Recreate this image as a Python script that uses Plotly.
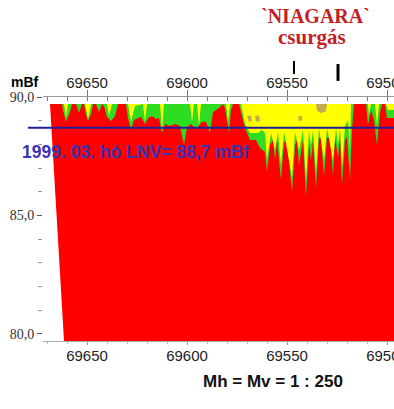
import plotly.graph_objects as go

# ---------------- data (chainage in m, elevation in mBf) ----------------
TOP_EL = 89.70          # top of the surveyed section
BOTTOM_EL = 79.70       # bottom of the drawn section
LNV = 88.7              # 1999 March LNV water level

red_ch = [69668.5, 69661.5, 69490.0, 69490.0]
red_el = [89.70, 79.70, 79.70, 89.70]

green_ch = [69668.5, 69662.5, 69662.0, 69660.5, 69658.5, 69657.5, 69655.5, 69654.0, 69652.5, 69651.5,
            69650.5, 69649.5, 69648.0, 69647.0, 69645.5, 69644.0, 69642.5, 69641.5, 69640.0, 69638.0,
            69636.0, 69634.5, 69630.5, 69629.5, 69628.0, 69626.5, 69624.5, 69623.0, 69621.0, 69619.5,
            69617.5, 69615.5, 69614.0, 69612.5, 69611.0, 69608.5, 69606.0, 69603.5, 69601.5, 69600.0,
            69598.0, 69596.5, 69595.0, 69592.5, 69590.5, 69588.5, 69587.0, 69584.0, 69582.0, 69581.0,
            69579.0, 69578.0, 69577.0, 69574.0, 69573.0, 69571.0, 69568.5, 69565.5, 69563.5, 69561.0,
            69560.0, 69558.5, 69557.0, 69556.0, 69555.0, 69553.0, 69551.5, 69550.0, 69547.5, 69546.0,
            69545.0, 69544.0, 69542.0, 69540.5, 69539.0, 69538.0, 69537.0, 69535.5, 69534.0, 69533.0,
            69531.5, 69530.0, 69528.5, 69527.0, 69526.0, 69524.5, 69523.5, 69522.5, 69521.0, 69520.0,
            69518.5, 69517.5, 69516.5, 69510.5, 69509.5, 69508.0, 69506.5, 69505.0, 69503.5, 69502.5,
            69501.0, 69500.0, 69490.0]
green_el = [89.70, 89.70, 89.45, 88.95, 89.37, 89.70, 89.70, 89.32, 89.70, 89.70,
            89.28, 88.99, 89.28, 89.70, 89.70, 89.37, 89.70, 89.62, 89.16, 88.99,
            89.20, 89.70, 89.70, 89.11, 88.61, 89.03, 89.11, 89.16, 88.86, 89.11,
            89.20, 89.07, 89.11, 88.48, 88.86, 88.78, 88.86, 88.78, 87.97, 88.73,
            88.86, 88.73, 88.69, 88.95, 88.95, 88.48, 89.37, 89.54, 89.70, 89.54,
            88.48, 89.45, 89.70, 89.70, 89.37, 88.69, 88.19, 88.19, 87.85, 87.68,
            86.84, 87.97, 88.19, 87.34, 88.19, 86.50, 88.10, 88.19, 85.99, 87.97,
            88.19, 87.13, 88.19, 85.78, 87.97, 87.34, 88.19, 86.16, 88.27, 88.27,
            86.67, 88.27, 88.31, 86.67, 88.31, 87.43, 88.31, 86.29, 88.19, 88.31,
            86.50, 88.61, 89.70, 89.70, 88.82, 89.45, 89.03, 87.97, 89.37, 89.70,
            89.70, 89.11, 89.11]

yellow_ch = [69668.5, 69661.5, 69660.5, 69659.5, 69651.0, 69649.5, 69648.0, 69640.0, 69639.0, 69637.5,
             69629.5, 69628.0, 69626.0, 69622.0, 69621.0, 69620.0, 69613.5, 69612.5, 69611.5, 69598.5,
             69597.5, 69596.5, 69595.0, 69594.0, 69593.0, 69580.5, 69579.5, 69578.5, 69573.0, 69572.5,
             69571.0, 69568.5, 69564.5, 69562.5, 69561.0, 69560.0, 69558.0, 69556.0, 69554.5, 69553.0,
             69551.5, 69547.5, 69546.0, 69544.0, 69542.0, 69540.5, 69539.0, 69538.0, 69537.0, 69535.5,
             69534.0, 69531.5, 69530.0, 69527.0, 69525.5, 69524.5, 69523.5, 69522.5, 69521.0, 69519.5,
             69518.5, 69518.0, 69509.5, 69509.0, 69508.0, 69506.0, 69505.0, 69504.0, 69500.5, 69499.5,
             69490.0]
yellow_el = [89.70, 89.70, 89.16, 89.70, 89.70, 89.07, 89.70, 89.70, 89.20, 89.70,
             89.70, 88.95, 89.62, 89.70, 88.95, 89.70, 89.70, 88.57, 89.70, 89.70,
             88.95, 89.70, 89.70, 88.78, 89.70, 89.70, 88.95, 89.70, 89.70, 89.45,
             88.86, 88.48, 88.48, 88.61, 88.48, 87.34, 88.48, 87.76, 88.52, 87.13,
             88.52, 86.58, 88.52, 87.76, 88.61, 86.50, 88.61, 87.97, 88.61, 86.84,
             88.69, 87.34, 88.69, 87.34, 88.69, 87.97, 88.69, 87.00, 88.78, 89.03,
             87.76, 89.70, 89.70, 89.24, 89.70, 89.70, 88.82, 89.70, 89.70, 89.45,
             89.45]

# olive patches inside the yellow zone (closed polygons)
olive_patches_ch = [
    [69570.0, 69568.0, 69567.5, 69569.0, 69570.0],
    [69566.0, 69564.0, 69563.5, 69565.5, 69566.0],
    [69535.5, 69530.0, 69530.5, 69533.0, 69535.0, 69535.5],
    [69544.5, 69542.5, 69542.5, 69544.0, 69544.5],
]
olive_patches_el = [
    [89.20, 89.22, 88.98, 88.95, 89.20],
    [89.20, 89.22, 88.98, 88.95, 89.20],
    [89.70, 89.70, 89.40, 89.32, 89.42, 89.70],
    [89.18, 89.20, 89.00, 88.99, 89.18],
]

x_range = [69672.0, 69496.5]
y_range = [79.70, 90.0]
y_tick_vals = [80, 85, 90]
y_tick_text = ["80,0", "85,0", "90,0"]
x_tick_vals = [69650, 69600, 69550, 69500]
x_tick_text = ["69650", "69600", "69550", "69500"]
marker_chainage = [69546.5, 69524.5]   # the two black marks under the title

RED = "#ff0000"
GREEN = "#2edc22"
YELLOW = "#ffff00"
OLIVE = "#c2aa52"

fig = go.Figure()

fig.add_trace(go.Scatter(x=red_ch, y=red_el, fill="toself", fillcolor=RED,
                         mode="lines", line=dict(width=0, color=RED), hoverinfo="skip"))
fig.add_trace(go.Scatter(x=green_ch + green_ch[::-1], y=green_el + [TOP_EL] * len(green_ch),
                         fill="toself", fillcolor=GREEN, mode="lines",
                         line=dict(width=0, color=GREEN), hoverinfo="skip"))
fig.add_trace(go.Scatter(x=yellow_ch + yellow_ch[::-1], y=yellow_el + [TOP_EL] * len(yellow_ch),
                         fill="toself", fillcolor=YELLOW, mode="lines",
                         line=dict(width=0, color=YELLOW), hoverinfo="skip"))
for pc, pe in zip(olive_patches_ch, olive_patches_el):
    fig.add_trace(go.Scatter(x=pc, y=pe, fill="toself", fillcolor=OLIVE, mode="lines",
                             line=dict(width=0, color=OLIVE), hoverinfo="skip"))

# invisible trace so the top axis is drawn
fig.add_trace(go.Scatter(x=x_range, y=[TOP_EL, TOP_EL], xaxis="x2", mode="lines",
                         line=dict(width=0), opacity=0, hoverinfo="skip"))

# LNV line
fig.add_shape(type="line", xref="paper", yref="y", x0=-0.043, x1=1.0, y0=LNV, y1=LNV,
              line=dict(color="#1f1f99", width=2))
# black marks
fig.add_shape(type="line", xref="x", yref="paper", x0=marker_chainage[0], x1=marker_chainage[0],
              y0=1.094, y1=1.148, line=dict(color="black", width=2))
fig.add_shape(type="line", xref="x", yref="paper", x0=marker_chainage[1], x1=marker_chainage[1],
              y0=1.066, y1=1.135, line=dict(color="black", width=3))

fig.add_annotation(text="<b>1999. 03. hó LNV= 88,7 mBf</b>", xref="paper", yref="y",
                   x=-0.0655, y=87.68, xanchor="left", yanchor="middle", showarrow=False,
                   font=dict(family="Liberation Sans, Arial", size=17.5, color="#3b32b4"))
fig.add_annotation(text="<b>mBf</b>", xref="paper", yref="paper", x=-0.051, y=1.061,
                   xanchor="center", yanchor="middle", showarrow=False,
                   font=dict(family="Liberation Sans, Arial", size=14, color="black"))
fig.add_annotation(text="<b>`NIAGARA`</b>", xref="paper", yref="paper", x=0.775, y=1.332,
                   xanchor="center", yanchor="middle", showarrow=False,
                   font=dict(family="Liberation Serif, Times New Roman", size=20, color="#c41e24"))
fig.add_annotation(text="<b>csurgás</b>", xref="paper", yref="paper", x=0.766, y=1.246,
                   xanchor="center", yanchor="middle", showarrow=False,
                   font=dict(family="Liberation Serif, Times New Roman", size=21, color="#c41e24"))
fig.add_annotation(text="<b>Mh = Mv = 1 : 250</b>", xref="paper", yref="paper", x=0.655, y=-0.168,
                   xanchor="center", yanchor="middle", showarrow=False,
                   font=dict(family="Liberation Sans, Arial", size=17, color="#111111"))

axis_font = dict(family="Liberation Sans, Arial", size=15, color="#222222")
fig.update_layout(
    width=394, height=409, autosize=False,
    margin=dict(l=43, r=0, t=97, b=68, autoexpand=False),
    paper_bgcolor="white", plot_bgcolor="white",
    showlegend=False,
    xaxis=dict(range=x_range, tickvals=x_tick_vals, ticktext=x_tick_text, automargin=False,
               showgrid=False, zeroline=False, showline=True, linecolor="#aaaaaa", linewidth=1,
               ticks="outside", ticklen=3, tickcolor="#999999", tickfont=axis_font,
               ticklabeloverflow="allow", ticklabelstandoff=-2,
               minor=dict(dtick=10, tick0=69500, ticks="outside", ticklen=2, tickcolor="#bbbbbb")),
    xaxis2=dict(range=x_range, overlaying="x", side="top", tickvals=x_tick_vals, ticktext=x_tick_text,
                automargin=False,
                showgrid=False, zeroline=False, showline=True, linecolor="#999999", linewidth=1,
                ticks="outside", ticklen=6, tickcolor="#777777", tickfont=axis_font,
                ticklabeloverflow="allow", ticklabelstandoff=-4,
                minor=dict(dtick=10, tick0=69500, ticks="inside", ticklen=4, tickcolor="#777777")),
    yaxis=dict(range=y_range, tickvals=y_tick_vals, ticktext=y_tick_text, automargin=False,
               showgrid=False, zeroline=False, showline=False,
               ticks="outside", ticklen=5, tickcolor="#555555",
               tickfont=dict(family="Liberation Serif, Times New Roman", size=14, color="#333333"),
               minor=dict(dtick=1, tick0=80, ticks="outside", ticklen=4, tickcolor="#999999")),
)

fig.write_html("out.html",
               config={"responsive": False, "displayModeBar": False, "staticPlot": True},
               post_script="document.body.style.margin='0';document.body.style.overflow='hidden';")
